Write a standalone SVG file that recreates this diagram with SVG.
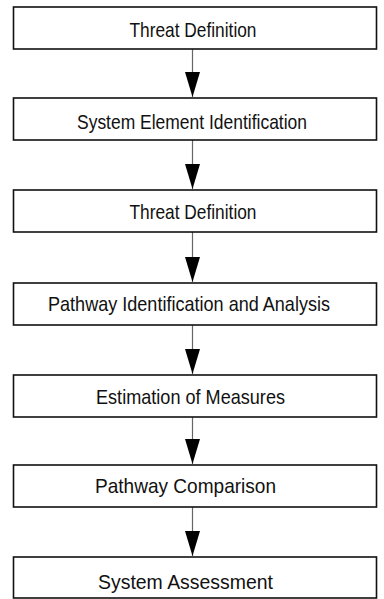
<svg xmlns="http://www.w3.org/2000/svg" width="384" height="599" viewBox="0 0 384 599">
<style>
.box{fill:#fff;stroke:#111;stroke-width:1.6}
.lbl{font-family:"Liberation Sans",Arial,sans-serif;font-size:21px;fill:#111;text-anchor:middle}
.conn{stroke:#666;stroke-width:1.2;fill:none}
</style>
<defs>
<marker id="ah" markerUnits="userSpaceOnUse" markerWidth="26" markerHeight="15" refX="25" refY="7.5" viewBox="0 0 26 15" orient="auto">
<path d="M0,0 L25,7.5 L0,15 Z" fill="#000"/>
</marker>
</defs>
<rect width="384" height="599" fill="#fff"/>
<g id="connectors">
<path class="conn" d="M192.5,49 V97" marker-end="url(#ah)"/>
<path class="conn" d="M192.5,140 V189" marker-end="url(#ah)"/>
<path class="conn" d="M192.5,232 V282" marker-end="url(#ah)"/>
<path class="conn" d="M192.5,325 V374" marker-end="url(#ah)"/>
<path class="conn" d="M192.5,417 V464" marker-end="url(#ah)"/>
<path class="conn" d="M192.5,507 V556" marker-end="url(#ah)"/>
</g>
<g id="n1"><rect class="box" x="13.5" y="7" width="363" height="42"/><text class="lbl" x="193" y="37" textLength="127" lengthAdjust="spacingAndGlyphs">Threat Definition</text></g>
<g id="n2"><rect class="box" x="13.5" y="98" width="363" height="42"/><text class="lbl" x="192" y="129" textLength="230" lengthAdjust="spacingAndGlyphs">System Element Identification</text></g>
<g id="n3"><rect class="box" x="13.5" y="190" width="363" height="42"/><text class="lbl" x="193" y="219" textLength="127" lengthAdjust="spacingAndGlyphs">Threat Definition</text></g>
<g id="n4"><rect class="box" x="13.5" y="283" width="363" height="42"/><text class="lbl" x="189" y="311" textLength="282" lengthAdjust="spacingAndGlyphs">Pathway Identification and Analysis</text></g>
<g id="n5"><rect class="box" x="13.5" y="375" width="363" height="42"/><text class="lbl" x="190.5" y="404" textLength="189" lengthAdjust="spacingAndGlyphs">Estimation of Measures</text></g>
<g id="n6"><rect class="box" x="13.5" y="465" width="363" height="42"/><text class="lbl" x="185.5" y="493" textLength="181" lengthAdjust="spacingAndGlyphs">Pathway Comparison</text></g>
<g id="n7"><rect class="box" x="13.5" y="557" width="363" height="41"/><text class="lbl" x="185.5" y="589" textLength="175" lengthAdjust="spacingAndGlyphs">System Assessment</text></g>
</svg>
